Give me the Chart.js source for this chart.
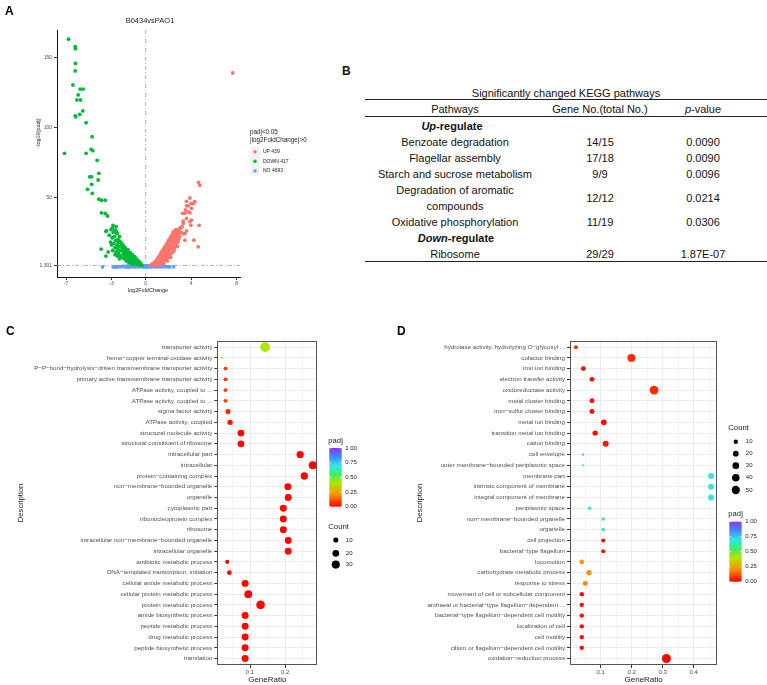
<!DOCTYPE html>
<html>
<head>
<meta charset="utf-8">
<script src="https://cdn.jsdelivr.net/npm/chart.js@4.4.0/dist/chart.umd.min.js"></script>
<style>
  body{margin:0;background:#fff;width:767px;height:685px;overflow:hidden;position:relative;font-family:"Liberation Sans",Arial,sans-serif;color:#111;}
  canvas{position:absolute;}
  .cell{position:absolute;font-size:11px;line-height:16px;text-align:center;white-space:nowrap;transform:translate(-50%,-50%);}
  .rule{position:absolute;left:365px;width:402px;background:#222;}
  .letter{position:absolute;font-weight:bold;font-size:12px;}
</style>
</head>
<body>
<canvas id="volcano" width="320" height="298" style="left:0;top:0"></canvas>
<div id="tableB"></div>
<canvas id="goUp" width="390" height="390" style="left:0;top:295px"></canvas>
<canvas id="goDown" width="382" height="390" style="left:385px;top:295px"></canvas>
<script>
// ---- A: volcano ----
const volcanoTitle = 'B0434vsPAO1';
const volcanoXTicks = [-7, -3, 0, 4, 8];
const volcanoYTicks = [1.301, 50, 100, 150];
const volcanoLegend = ['UP 439', 'DOWN 417', 'NO 4693'];
const upGenes = [
  [7.66,139.2],[4.65,60.8],[4.76,58.7],[3.89,49.6],[4.3,47],[4.32,46.9],[3.59,47.2],[3.75,44],[4.0,45.8],[4.18,45.5],
  [3.6,44],[4.03,42.2],[3.74,39.7],[3.5,41],[3.9,39],[3.25,38.6],[3.45,38.6],[3.59,35],[4.03,33.8],[3.89,32.6],
  [3.3,31.4],[3.3,33],[4.7,30],[3.97,30],[3.0,27.8],[3.2,29],[3.45,24.2],[3.6,26],[3.3,24],[2.72,25.4],
  [2.42,25.4],[3.45,19.4],[4.24,19.4],[4.62,14.6],
  [0.5,1.6],[0.55,2],[0.6,2.5],[0.65,1.8],[0.7,3],[0.75,2.2],[0.8,3.5],[0.85,2.6],[0.9,4.5],[0.95,3],
  [1.0,5.5],[1.0,2.5],[1.05,4],[1.1,7],[1.1,3],[1.15,5],[1.2,8],[1.2,3.5],[1.25,6],[1.3,9.5],
  [1.3,4.5],[1.35,7],[1.4,11],[1.4,5],[1.45,8.5],[1.5,12],[1.5,6],[1.55,9.5],[1.6,13.5],[1.6,7],
  [1.65,11],[1.7,15],[1.7,8],[1.75,12.5],[1.8,16],[1.8,9],[1.85,13.5],[1.9,17.5],[1.9,10],[1.95,14.5],
  [2.0,19],[2.0,11],[2.05,16],[2.1,20],[2.1,12.5],[2.15,17],[2.2,21.5],[2.2,14],[2.25,18.5],[2.3,23],
  [2.3,15],[2.35,20],[2.4,24],[2.4,16],[2.45,21],[2.5,25.5],[2.5,18],[2.55,22],[2.6,26.5],[2.6,19.5],
  [2.65,23.5],[2.7,27],[2.75,21],[2.8,24],[2.9,26],[3.0,22],[3.05,28],[2.85,18],[2.7,16],[2.4,11],
  [2.1,8],[1.8,5.5],[1.5,4],[1.2,2.5],[0.9,2],[1.0,1.5],[1.3,1.8],[1.6,2.8],[1.9,4.5],[2.2,7],
  [2.5,12],[2.8,15],[0.6,1.4],[0.8,1.6],[1.15,7],[1.45,10],[1.75,14],[2.05,17],[2.35,21.5],[2.65,25],
  [2.95,24],[2.55,14],[2.25,10],[1.95,7],[1.65,5],[1.35,3],[1.05,2.2],[0.85,4],[1.25,4.5],[1.55,8],
  [1.85,11.5],[2.15,15],[2.45,19],[2.75,22],[3.1,25],[2.9,20],[2.6,17],[2.3,13],[2.0,9.5],[1.7,6.5],[1.4,4.5]
];
const downGenes = [
  [-6.79,163.4],[-6.2,158],[-6.18,156.5],[-6.18,146],[-6.2,140.7],[-6.4,130.6],[-5.76,127.7],[-5.5,127.7],[-5.94,123.5],[-6.05,119.9],
  [-5.73,119.9],[-5.53,112],[-5.8,109.5],[-6.2,108.5],[-6.15,107.8],[-5.24,103.6],[-4.71,93.5],[-4.8,84.5],[-4.65,83.5],[-5.24,81.6],
  [-7.14,81.6],[-4.27,76.6],[-4.92,64.8],[-4.75,64.8],[-4.12,67.3],[-4.18,62.5],[-4.75,59.4],[-5.12,55.8],[-4.7,52.9],[-4.12,48.8],
  [-3.89,48],[-3.56,48],[-3.89,39],[-3.56,38.5],[-3.36,36.7],[-2.87,30],[-3.44,26.1],[-3.5,25.8],[-2.7,26.6],[-2.5,24.4],[-3.92,13],
  [-3.1,18],[-3.0,16],[-2.95,21],[-2.9,12],[-2.85,25],[-2.8,17],[-2.75,22],[-2.7,14],[-2.7,9],[-2.65,19],
  [-2.6,11],[-2.6,26],[-2.55,24],[-2.55,15],[-2.5,16],[-2.5,8],[-2.45,13],[-2.45,20],[-2.4,18],[-2.4,10],
  [-2.35,9],[-2.35,19],[-2.3,18],[-2.3,6],[-2.25,15],[-2.25,12],[-2.2,18],[-2.2,8],[-2.15,12],[-2.15,17],
  [-2.1,16],[-2.1,7],[-2.05,8],[-2.05,14],[-2.0,14],[-2.0,16],[-1.95,15],[-1.95,10],[-1.9,11],[-1.9,6],
  [-1.85,13.5],[-1.85,9],[-1.8,7],[-1.8,14],[-1.75,13],[-1.75,11],[-1.7,10],[-1.7,4.5],[-1.65,12],[-1.65,8],
  [-1.6,6],[-1.6,12],[-1.55,11],[-1.55,12.5],[-1.5,9],[-1.5,3.5],[-1.45,5],[-1.45,10],[-1.4,8],[-1.4,10],
  [-1.35,7],[-1.35,10.5],[-1.3,4],[-1.3,2.5],[-1.25,9],[-1.25,6.5],[-1.2,6],[-1.2,9],[-1.15,3.5],[-1.15,8.5],
  [-1.1,7],[-1.1,2],[-1.05,5],[-1.05,6.5],[-1.0,3],[-1.0,7.5],[-0.95,6],[-0.95,7],[-0.9,4],[-0.9,6.5],
  [-0.85,2.5],[-0.85,5],[-0.8,4.5],[-0.8,3.5],[-0.75,3],[-0.75,5.5],[-0.7,2],[-0.7,4.5],[-0.65,3.5],[-0.6,2.2],
  [-0.6,4],[-0.55,1.8],[-0.55,3.2],[-0.5,2.5],[-0.5,3.5],[-0.45,1.6],[-0.4,2],[-0.35,1.5],[-3.2,23],[-3.3,11],
  [-3.5,8],[-3.05,27],[-2.95,28],[-2.6,29],[-2.3,22]
];
const notSigGenes = [
  [-3.8,0.2],[-2.85,0.3],[-2.7,0.1],[-2.6,0.4],[-2.5,0.2],[-2.3,0.5],[-2.1,0.3],[-1.95,0.8],[-1.8,0.2],[-1.7,0.6],
  [-1.6,0.1],[-1.55,1.0],[-1.45,0.3],[-1.3,0.7],[-1.2,1.1],[-1.1,0.4],[-1.0,0.8],[-0.9,0.2],[-0.85,1.2],[-0.75,0.5],
  [-0.65,0.9],[-0.6,1.25],[-0.55,0.3],[-0.45,0.7],[-0.4,1.1],[-0.3,0.4],[-0.25,0.8],[-0.15,0.2],[-0.1,0.6],[-0.05,1.0],
  [0,0.3],[0.05,0.7],[0.1,0.1],[0.15,0.9],[0.2,0.4],[0.25,1.2],[0.3,0.6],[0.35,1.1],[0.4,0.2],[0.5,0.8],
  [0.55,1.25],[0.6,0.4],[0.7,1.0],[0.8,0.3],[0.9,0.7],[1.0,0.2],[1.1,0.9],[1.2,0.5],[1.3,0.2],[1.4,0.8],
  [1.5,0.4],[1.65,0.6],[1.8,0.3],[2.0,0.5],[2.1,0.2],[2.45,0.3],[-1.4,0.1],[-0.2,1.2],[0.45,0.5],[0.95,1.1]
];

// ---- B: KEGG table ----
const upPathways = ['Benzoate degradation', 'Flagellar assembly', 'Starch and sucrose metabolism', 'Degradation of aromatic compounds', 'Oxidative phosphorylation'];
const upGeneNo = ['14/15', '17/18', '9/9', '12/12', '11/19'];
const upPValue = ['0.0090', '0.0090', '0.0096', '0.0214', '0.0306'];
const downPathways = ['Ribosome'];
const downGeneNo = ['29/29'];
const downPValue = ['1.87E-07'];

// ---- C: GO terms (left) ----
const goUpTerms = ['transporter activity','heme−copper terminal oxidase activity','P−P−bond−hydrolysis−driven transmembrane transporter activity',
  'primary active transmembrane transporter activity','ATPase activity, coupled to ...','ATPase activity, coupled to ...','sigma factor activity',
  'ATPase activity, coupled','structural molecule activity','structural constituent of ribosome','intracellular part','intracellular',
  'protein−containing complex','non−membrane−bounded organelle','organelle','cytoplasmic part','ribonucleoprotein complex','ribosome',
  'intracellular non−membrane−bounded organelle','intracellular organelle','antibiotic metabolic process','DNA−templated transcription, initiation',
  'cellular amide metabolic process','cellular protein metabolic process','protein metabolic process','amide biosynthetic process',
  'peptide metabolic process','drug metabolic process','peptide biosynthetic process','translation'];
const goUpRatio = [0.143,0.019,0.030,0.030,0.030,0.030,0.037,0.043,0.074,0.074,0.243,0.279,0.255,0.208,0.209,0.195,0.195,0.195,0.209,0.209,
  0.035,0.041,0.086,0.095,0.130,0.086,0.086,0.086,0.086,0.086];
const goUpCount = [45,1,5,5,5,5,10,11,20,20,23,29,24,21,21,21,21,21,21,21,6,8,21,28,35,21,21,21,21,21];
const goUpPadj = [0.41,0.40,0.08,0.08,0.08,0.08,0.05,0.03,0.01,0.01,0.01,0.01,0.01,0.01,0.01,0.01,0.01,0.01,0.01,0.01,
  0.01,0.01,0.01,0.01,0.01,0.01,0.01,0.01,0.01,0.01];
const countBreaksUp = [10, 20, 30];

// ---- D: GO terms (right) ----
const goDownTerms = ['hydrolase activity, hydrolyzing O−glycosyl ...','cofactor binding','iron ion binding','electron transfer activity',
  'oxidoreductase activity','metal cluster binding','iron−sulfur cluster binding','metal ion binding','transition metal ion binding',
  'cation binding','cell envelope','outer membrane−bounded periplasmic space','membrane part','intrinsic component of membrane',
  'integral component of membrane','periplasmic space','non−membrane−bounded organelle','organelle','cell projection',
  'bacterial−type flagellum','locomotion','carbohydrate metabolic process','response to stress','movement of cell or subcellular component',
  'archaeal or bacterial−type flagellum−dependent ...','bacterial−type flagellum−dependent cell motility','localization of cell',
  'cell motility','cilium or flagellum−dependent cell motility','oxidation−reduction process'];
const goDownRatio = [0.020,0.199,0.044,0.072,0.272,0.072,0.072,0.110,0.082,0.116,0.043,0.043,0.456,0.456,0.456,0.064,0.108,0.108,0.108,0.108,
  0.039,0.062,0.050,0.039,0.039,0.039,0.039,0.039,0.039,0.312];
const goDownCount = [8,45,14,14,58,14,14,20,17,23,1,1,23,23,23,5,6,6,8,8,12,16,14,10,10,10,10,10,10,62];
const goDownPadj = [0.07,0.06,0.02,0.02,0.06,0.02,0.02,0.02,0.02,0.03,0.78,0.70,0.69,0.69,0.69,0.70,0.62,0.62,0.01,0.01,
  0.22,0.21,0.20,0.01,0.01,0.01,0.01,0.01,0.01,0.01];
const countBreaksDown = [10, 20, 30, 40, 50];
const padjBreaks = [0, 0.25, 0.5, 0.75, 1];

const FONT = '"Liberation Sans", Arial, sans-serif';
const padjStops = [[0,[255,0,0]],[0.2,[255,140,0]],[0.4,[180,230,0]],[0.55,[60,240,100]],[0.7,[50,230,230]],[0.85,[60,140,255]],[1,[140,50,255]]];

function padjColor(p){
  for(let i=1;i<padjStops.length;i++){
    const [p1,c1] = padjStops[i]; const [p0,c0] = padjStops[i-1];
    if(p <= p1){
      const t = (p - p0)/(p1 - p0);
      const c = c0.map((v,k)=> Math.round(v + (c1[k]-v)*t));
      return 'rgb(' + c.join(',') + ')';
    }
  }
  return 'rgb(140,50,255)';
}

function txt(ctx, s, x, y, size, align, color, weight){
  ctx.font = (weight||'normal') + ' ' + size + 'px ' + FONT;
  ctx.textAlign = align || 'left'; ctx.textBaseline = 'middle';
  ctx.fillStyle = color || '#1a1a1a';
  ctx.fillText(s, x, y);
}
function vtxt(ctx, s, x, y, size){
  ctx.save(); ctx.translate(x, y); ctx.rotate(-Math.PI/2);
  txt(ctx, s, 0, 0, size, 'center');
  ctx.restore();
}

// volcano
const volcanoDecor = {
  id: 'volcanoDecor',
  beforeDatasetsDraw(chart){
    const ctx = chart.ctx, a = chart.chartArea, xs = chart.scales.x, ys = chart.scales.y;
    ctx.save();
    ctx.strokeStyle = '#9a9a9a'; ctx.lineWidth = 0.8; ctx.setLineDash([4,2,1,2]);
    const x0 = xs.getPixelForValue(0), y0 = ys.getPixelForValue(1.301);
    ctx.beginPath(); ctx.moveTo(x0, a.top); ctx.lineTo(x0, a.bottom); ctx.stroke();
    ctx.beginPath(); ctx.moveTo(a.left, y0); ctx.lineTo(a.right, y0); ctx.stroke();
    ctx.restore();
  },
  afterDraw(chart){
    const ctx = chart.ctx;
    ctx.save();
    txt(ctx, 'A', 5, 12, 12, 'left', '#000', 'bold');
    txt(ctx, volcanoTitle, 150, 21, 7.5, 'center');
    vtxt(ctx, '-log10(padj)', 38, 133, 5.5);
    txt(ctx, 'log2FoldChange', 148, 290, 5.5, 'center');
    txt(ctx, 'padj<0.05', 250, 132, 6.3);
    txt(ctx, '|log2FoldChange|>0', 250, 140, 6.3);
    const cols = ['#f8766d', '#00ba38', '#619cff'];
    volcanoLegend.forEach((lab, i)=>{
      const y = 151.7 + i*9.6;
      ctx.fillStyle = '#f0f0f0'; ctx.fillRect(250.5, y-4.6, 9.2, 9.2);
      ctx.fillStyle = cols[i]; ctx.beginPath(); ctx.arc(255, y, 1.7, 0, Math.PI*2); ctx.fill();
      txt(ctx, lab, 263, y, 5);
    });
    ctx.restore();
  }
};

const toPts = arr => arr.map(p => ({x: p[0], y: p[1]}));
new Chart(document.getElementById('volcano'), {
  type: 'scatter',
  data: { datasets: [
    { label: 'DOWN', data: toPts(downGenes), backgroundColor: '#00ba38', pointRadius: 1.9, borderWidth: 0 },
    { label: 'UP', data: toPts(upGenes), backgroundColor: '#f8766d', pointRadius: 1.9, borderWidth: 0 },
    { label: 'NO', data: toPts(notSigGenes), backgroundColor: '#619cff', pointRadius: 1.9, borderWidth: 0 }
  ]},
  options: {
    responsive: false, animation: false, events: [],
    layout: { padding: { left: 0, top: 30, right: 80, bottom: 0 } },
    plugins: { legend: { display: false }, tooltip: { enabled: false } },
    scales: {
      x: {
        type: 'linear', min: -7.8, max: 8.3,
        afterBuildTicks: s => { s.ticks = volcanoXTicks.map(v => ({value: v})); },
        afterFit: s => { s.height = 21; },
        grid: { drawOnChartArea: false, tickLength: 3, tickColor: '#333' },
        border: { color: '#111', width: 1 },
        ticks: { font: { size: 5, family: FONT }, color: '#4d4d4d', padding: 1, maxRotation: 0 }
      },
      y: {
        type: 'linear', min: -7, max: 170,
        afterBuildTicks: s => { s.ticks = volcanoYTicks.map(v => ({value: v})); },
        afterFit: s => { s.width = 57; },
        grid: { drawOnChartArea: false, tickLength: 3, tickColor: '#333' },
        border: { color: '#111', width: 1 },
        ticks: { font: { size: 5, family: FONT }, color: '#4d4d4d', padding: 2, callback: v => String(v) }
      }
    }
  },
  plugins: [volcanoDecor]
});

// table B
(function(){
  const box = document.getElementById('tableB');
  function cell(html, x, y, extra){
    const d = document.createElement('div');
    d.className = 'cell'; d.innerHTML = html;
    d.style.left = x + 'px'; d.style.top = y + 'px';
    if(extra) Object.assign(d.style, extra);
    box.appendChild(d);
  }
  function rule(y, h){
    const d = document.createElement('div'); d.className = 'rule';
    d.style.top = (y - h/2) + 'px'; d.style.height = h + 'px'; box.appendChild(d);
  }
  const letter = document.createElement('div'); letter.className = 'letter'; letter.textContent = 'B';
  letter.style.left = '342px'; letter.style.top = '64px'; box.appendChild(letter);
  const cx = [455, 600, 703];
  cell('Significantly changed KEGG pathways', 566, 92.5);
  rule(99.5, 1.4);
  cell('Pathways', cx[0], 108.5); cell('Gene No.(total No.)', cx[1], 108.5); cell('<i>p</i>-value', cx[2], 108.5);
  rule(116.7, 0.8);
  let y = 125.7;
  const step = 16;
  cell('<b><i>Up</i>-regulate</b>', 452, y); y += step;
  upPathways.forEach((p, i)=>{
    const twoLine = p.length > 30;
    const yc = twoLine ? y + step/2 : y;
    cell(p, cx[0], yc, twoLine ? { whiteSpace: 'normal', width: '150px' } : null);
    cell(upGeneNo[i], cx[1], yc); cell(upPValue[i], cx[2], yc);
    y += twoLine ? step*2 : step;
  });
  cell('<b><i>Down</i>-regulate</b>', 456, y); y += step;
  downPathways.forEach((p, i)=>{
    cell(p, cx[0], y); cell(downGeneNo[i], cx[1], y); cell(downPValue[i], cx[2], y); y += step;
  });
  rule(261.5, 1.8);
})();

// C / D dot plots
function goDecor(cfg){
  return {
    id: 'goDecor',
    afterDraw(chart){
      const ctx = chart.ctx, a = chart.chartArea;
      ctx.save();
      ctx.strokeStyle = '#555'; ctx.lineWidth = 1;
      ctx.strokeRect(Math.round(a.left)+0.5, Math.round(a.top)+0.5, Math.round(a.right-a.left)-1, Math.round(a.bottom-a.top)-1);
      txt(ctx, cfg.letter, cfg.letterX, 37, 12, 'left', '#000', 'bold');
      vtxt(ctx, 'Description', cfg.descX, 208, 7.7);
      txt(ctx, 'GeneRatio', (a.left + a.right)/2, 385, 8, 'center');
      // padj colour bar
      const pb = cfg.padjLegend;
      txt(ctx, 'padj', pb.x - 1, pb.top - 7.5, 7.7);
      const g = ctx.createLinearGradient(0, pb.top + pb.h, 0, pb.top);
      padjStops.forEach(s => g.addColorStop(s[0], 'rgb(' + s[1].join(',') + ')'));
      ctx.fillStyle = g; ctx.fillRect(pb.x, pb.top, pb.w, pb.h);
      padjBreaks.forEach(v => {
        const yy = pb.top + pb.h - v*pb.h;
        ctx.strokeStyle = '#fff'; ctx.lineWidth = 0.6;
        ctx.beginPath(); ctx.moveTo(pb.x, yy); ctx.lineTo(pb.x + 2, yy); ctx.moveTo(pb.x + pb.w - 2, yy); ctx.lineTo(pb.x + pb.w, yy); ctx.stroke();
        txt(ctx, v.toFixed(2), pb.x + pb.w + 3.5, yy, 6, 'left', '#1a1a1a');
      });
      // count legend
      const cl = cfg.countLegend;
      txt(ctx, 'Count', cl.x - 1, cl.titleY, 7.7);
      cfg.countBreaks.forEach((c, i) => {
        const yy = cl.ys[i];
        ctx.fillStyle = '#000'; ctx.beginPath(); ctx.arc(cl.x + 6.5, yy, cfg.radius(c), 0, Math.PI*2); ctx.fill();
        txt(ctx, String(c), cl.x + 16.5, yy, 6, 'left', '#1a1a1a');
      });
      ctx.restore();
    }
  };
}

function goChart(id, terms, ratio, count, padj, cfg){
  const isMajor = v => Math.abs(v*10 - Math.round(v*10)) < 1e-6;
  new Chart(document.getElementById(id), {
    type: 'bubble',
    data: { datasets: [{
      data: terms.map((t, i) => ({ x: ratio[i], y: i + 1, r: cfg.radius(count[i]) })),
      backgroundColor: ctx => padjColor(padj[ctx.dataIndex]),
      borderWidth: 0
    }]},
    options: {
      responsive: false, animation: false, events: [],
      layout: { padding: { left: 0, top: 45.7, right: cfg.padRight, bottom: 0 } },
      plugins: { legend: { display: false }, tooltip: { enabled: false } },
      scales: {
        x: {
          type: 'linear', min: cfg.xMin, max: cfg.xMax,
          afterBuildTicks: s => { s.ticks = cfg.xGrid.map(v => ({value: v})); },
          afterFit: s => { s.height = 20; },
          grid: {
            color: '#ebebeb',
            lineWidth: c => isMajor(c.tick.value) ? 1 : 0.5,
            tickColor: c => isMajor(c.tick.value) ? '#333' : 'rgba(0,0,0,0)',
            tickLength: 3
          },
          border: { display: false },
          ticks: { font: { size: 6, family: FONT }, color: '#4d4d4d', padding: 1, maxRotation: 0, autoSkip: false,
                   callback: v => isMajor(v) ? String(Math.round(v*10)/10) : '' }
        },
        y: {
          type: 'linear', min: 0.4, max: terms.length + 0.6, reverse: true,
          afterBuildTicks: s => { s.ticks = terms.map((t, i) => ({value: i + 1})); },
          afterFit: s => { s.width = cfg.yWidth; },
          grid: { color: '#ebebeb', lineWidth: 1, tickColor: '#333', tickLength: 3 },
          border: { display: false },
          ticks: { font: { size: 6.2, family: FONT }, color: '#4d4d4d', padding: 2, autoSkip: false,
                   callback: v => terms[v - 1] }
        }
      }
    },
    plugins: [goDecor(cfg)]
  });
}

goChart('goUp', goUpTerms, goUpRatio, goUpCount, goUpPadj, {
  xMin: 0.0066, xMax: 0.292, xGrid: [0.05, 0.1, 0.15, 0.2, 0.25],
  yWidth: 217.3, padRight: 72.7,
  radius: c => 0.65*Math.sqrt(c) + 0.5,
  letter: 'C', letterX: 6, descX: 21,
  padjLegend: { x: 329.3, top: 153, w: 12.4, h: 58.7 },
  countLegend: { x: 329.3, titleY: 231.7, ys: [245, 258.3, 269.6] },
  countBreaks: countBreaksUp
});

goChart('goDown', goDownTerms, goDownRatio, goDownCount, goDownPadj, {
  xMin: 0.001, xMax: 0.476, xGrid: [0.05, 0.1, 0.15, 0.2, 0.25, 0.3, 0.35, 0.4, 0.45],
  yWidth: 185, padRight: 49.7,
  radius: c => 0.5*Math.sqrt(c) + 0.6,
  letter: 'D', letterX: 12, descX: 35,
  padjLegend: { x: 344.3, top: 226.7, w: 12.4, h: 60 },
  countLegend: { x: 344.3, titleY: 132.7, ys: [146.7, 158.7, 170.7, 182.7, 195] },
  countBreaks: countBreaksDown
});
</script>
</body>
</html>
